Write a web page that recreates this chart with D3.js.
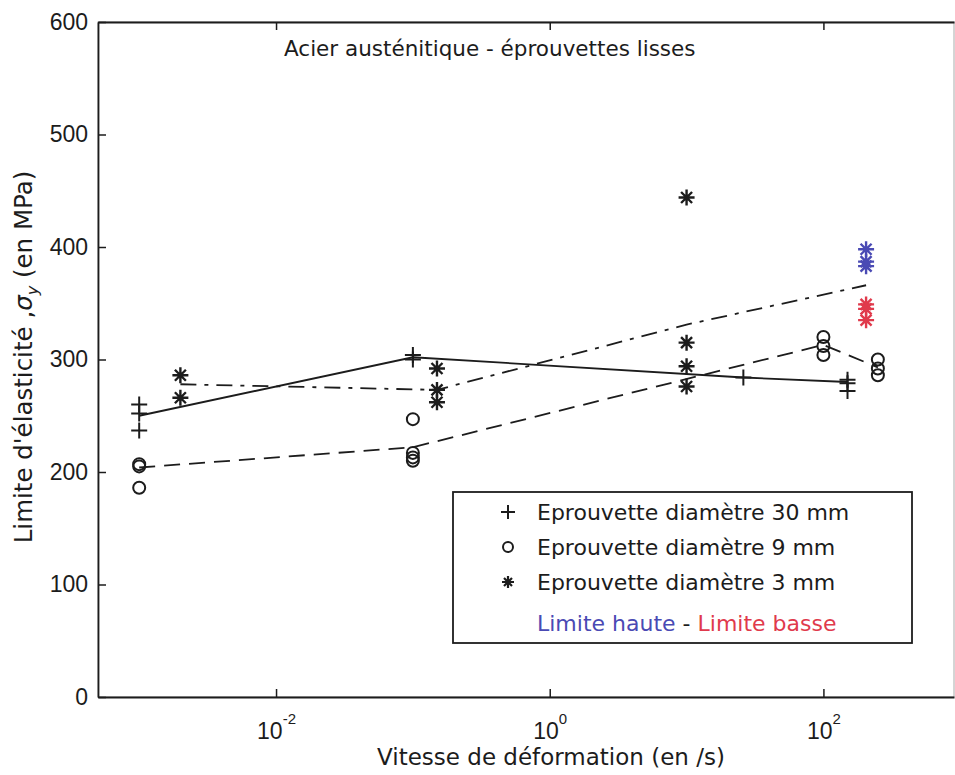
<!DOCTYPE html>
<html>
<head>
<meta charset="utf-8">
<script src="https://cdn.jsdelivr.net/npm/d3@7"></script>
<style>
    body { margin: 0; background: #fff; }
    svg { display: block; font-family: "DejaVu Sans", sans-serif; }
</style>
</head>
<body>
<svg id="chart" width="955" height="775"></svg>
<script>
//data - points (strain rate in /s, yield stress in MPa)
let plus30X = [0.001, 0.001, 0.001, 0.1, 0.1, 26, 150, 150, 150];
let plus30Y = [260, 252, 237, 304, 300, 284, 282, 279, 272];

let circle9X = [0.001, 0.001, 0.001, 0.1, 0.1, 0.1, 0.1, 100, 100, 100, 250, 250, 250];
let circle9Y = [207, 205, 186, 247, 217, 213, 210, 320, 312, 304, 300, 292, 286];

let star3X = [0.002, 0.002, 0.15, 0.15, 0.15, 10, 10, 10, 10];
let star3Y = [286, 266, 292, 273, 262, 444, 315, 294, 276];

let highX = [205, 205, 205];
let highY = [398, 387, 383];
let lowX = [205, 205, 205];
let lowY = [349, 345, 335];

//trend lines (through the mean of each group)
let line30X = [0.001, 0.1, 26, 150];
let line30Y = [250, 302, 284, 280];
let line9X = [0.001, 0.1, 100, 250];
let line9Y = [204, 222, 313, 293];
let line3X = [0.002, 0.15, 10, 205];
let line3Y = [278, 273, 331, 366];

let xTicks = [1e-2, 1, 1e2];
let xTickExp = ["-2", "0", "2"];
let yTicks = [0, 100, 200, 300, 400, 500, 600];

let legendLabels = ["Eprouvette diamètre 30 mm", "Eprouvette diamètre 9 mm", "Eprouvette diamètre 3 mm"];

let blue = "#4a4ab4";
let red = "#e03a4c";
let ink = "#1c1c1c";

//canvas
let svg = d3.select("#chart");

let x = d3.scaleLog()
    .domain([5e-4, 900])
    .range([98, 954]);

let y = d3.scaleLinear()
    .domain([0, 600])
    .range([697, 22]);

let plusPath = "M-8,0H8M0,-8V8";
let starPath = "M-8,0H8M0,-8V8M-5.5,-5.5L5.5,5.5M-5.5,5.5L5.5,-5.5";

//box
svg.append("rect")
    .attr("x", 98)
    .attr("y", 22)
    .attr("width", 954 - 98)
    .attr("height", 697 - 22)
    .attr("fill", "none")
    .attr("stroke", "#aaa")
    .attr("stroke-width", 1);

//axes
let yAxis = svg.append("g")
    .attr("transform", "translate(98,0)")
    .call(d3.axisLeft(y).tickValues(yTicks).tickSize(-8).tickSizeOuter(0));

let xAxis = svg.append("g")
    .attr("transform", "translate(0,697)")
    .call(d3.axisBottom(x).tickValues(xTicks).tickSize(-8).tickSizeOuter(0));

let xTop = svg.append("g")
    .attr("transform", "translate(0,22)")
    .call(d3.axisTop(x).tickValues(xTicks).tickSize(-8).tickSizeOuter(0).tickFormat(""));

[yAxis, xAxis, xTop].forEach(function(g) {
    g.select(".domain").attr("stroke", ink).attr("stroke-width", 1.8);
    g.selectAll(".tick line").attr("stroke", ink).attr("stroke-width", 1.5);
});

yAxis.selectAll(".tick text")
    .attr("x", -10)
    .attr("fill", ink)
    .style("font-family", "'Liberation Sans', Arial, sans-serif")
    .style("font-size", "23px");

xAxis.selectAll(".tick text")
    .each(function(d, i) {
        let t = d3.select(this);
        t.text(null)
            .attr("y", 42)
            .attr("dy", 0)
            .attr("fill", ink)
            .style("font-family", "'Liberation Sans', Arial, sans-serif")
            .style("font-size", "23px");
        t.append("tspan").text("10");
        t.append("tspan")
            .attr("dy", -15)
            .style("font-size", "15px")
            .text(xTickExp[i]);
    });

//axis titles
svg.append("text")
    .attr("x", 551)
    .attr("y", 765)
    .attr("text-anchor", "middle")
    .attr("fill", ink)
    .style("font-size", "23px")
    .text("Vitesse de déformation (en /s)");

let yLabel = svg.append("text")
    .attr("transform", "translate(32,357) rotate(-90)")
    .attr("text-anchor", "middle")
    .attr("fill", ink)
    .style("font-size", "24.5px");
yLabel.append("tspan").text("Limite d'élasticité ,");
yLabel.append("tspan").style("font-style", "italic").text("σ");
yLabel.append("tspan").attr("dy", 6).style("font-size", "16px").style("font-style", "italic").text("y");
yLabel.append("tspan").attr("dy", -6).text(" (en MPa)");

svg.append("text")
    .attr("x", 284)
    .attr("y", 56)
    .attr("fill", ink)
    .style("font-size", "21.5px")
    .text("Acier austénitique - éprouvettes lisses");

//lines
let line = d3.line()
    .x(d => x(d[0]))
    .y(d => y(d[1]));

svg.append("path")
    .datum(d3.zip(line30X, line30Y))
    .attr("d", line)
    .attr("fill", "none")
    .attr("stroke", ink)
    .attr("stroke-width", 1.8);

svg.append("path")
    .datum(d3.zip(line9X, line9Y))
    .attr("d", line)
    .attr("fill", "none")
    .attr("stroke", ink)
    .attr("stroke-width", 1.8)
    .attr("stroke-dasharray", "16,9");

svg.append("path")
    .datum(d3.zip(line3X, line3Y))
    .attr("d", line)
    .attr("fill", "none")
    .attr("stroke", ink)
    .attr("stroke-width", 1.8)
    .attr("stroke-dasharray", "16,8,4,8");

//markers
function drawPaths(xs, ys, shape, color, width) {
    svg.append("g")
        .selectAll("path")
        .data(d3.zip(xs, ys))
        .enter()
        .append("path")
        .attr("transform", d => "translate(" + x(d[0]) + "," + y(d[1]) + ")")
        .attr("d", shape)
        .attr("fill", "none")
        .attr("stroke", color)
        .attr("stroke-width", width);
}

drawPaths(plus30X, plus30Y, plusPath, ink, 2);
drawPaths(star3X, star3Y, starPath, ink, 2.4);
drawPaths(highX, highY, starPath, blue, 2.4);
drawPaths(lowX, lowY, starPath, red, 2.4);

svg.append("g")
    .selectAll("circle")
    .data(d3.zip(circle9X, circle9Y))
    .enter()
    .append("circle")
    .attr("cx", d => x(d[0]))
    .attr("cy", d => y(d[1]))
    .attr("r", 6)
    .attr("fill", "none")
    .attr("stroke", ink)
    .attr("stroke-width", 2);

//legend
let legend = svg.append("g");

legend.append("rect")
    .attr("x", 453)
    .attr("y", 492)
    .attr("width", 912 - 453)
    .attr("height", 643 - 492)
    .attr("fill", "#fff")
    .attr("stroke", ink)
    .attr("stroke-width", 1.8);

let rowY = [512, 547, 582];

legend.append("path")
    .attr("transform", "translate(508," + rowY[0] + ")")
    .attr("d", "M-7,0H7M0,-7V7")
    .attr("stroke", ink)
    .attr("stroke-width", 2);

legend.append("circle")
    .attr("cx", 508)
    .attr("cy", rowY[1])
    .attr("r", 5)
    .attr("fill", "none")
    .attr("stroke", ink)
    .attr("stroke-width", 2);

legend.append("path")
    .attr("transform", "translate(508," + rowY[2] + ")")
    .attr("d", "M-6,0H6M0,-6V6M-4,-4L4,4M-4,4L4,-4")
    .attr("stroke", ink)
    .attr("stroke-width", 2.2);

legend.selectAll("text.entry")
    .data(legendLabels)
    .enter()
    .append("text")
    .attr("class", "entry")
    .attr("x", 537)
    .attr("y", (d, i) => rowY[i] + 8)
    .attr("fill", ink)
    .style("font-size", "22px")
    .text(d => d);

let limits = legend.append("text")
    .attr("x", 537)
    .attr("y", 631)
    .style("font-size", "22px");
limits.append("tspan").attr("fill", blue).text("Limite haute");
limits.append("tspan").attr("fill", ink).text(" - ");
limits.append("tspan").attr("fill", red).text("Limite basse");
</script>
</body>
</html>
